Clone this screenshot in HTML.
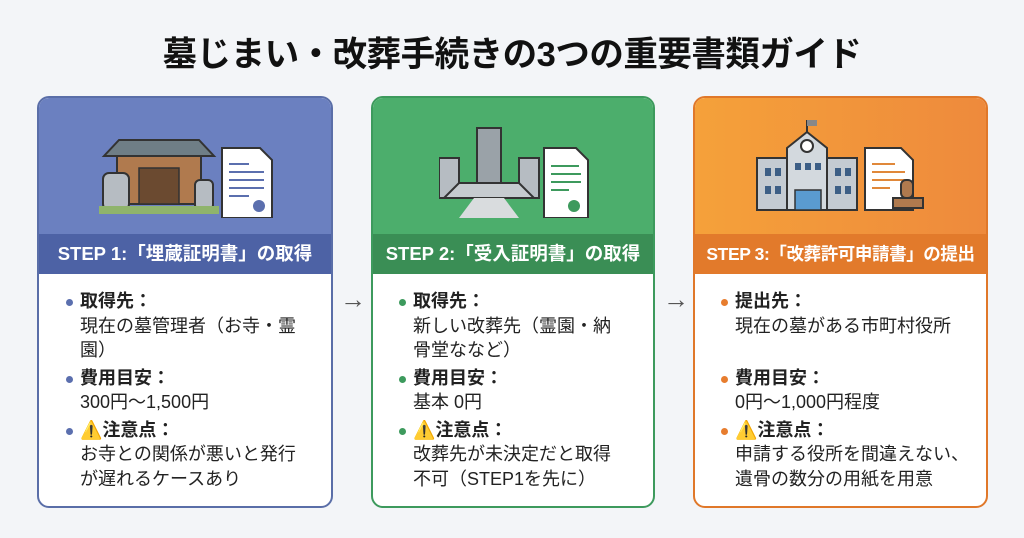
<!DOCTYPE html>
<html><head><meta charset="utf-8"><style>
*{margin:0;padding:0;box-sizing:border-box}
body{width:1024px;height:538px;background:#f3f5f8;position:relative;overflow:hidden;font-family:"Liberation Sans","Noto Sans CJK JP",sans-serif;color:#222}
.title{position:absolute;left:0;width:1024px;top:26px;text-align:center;font-size:34.5px;font-weight:bold;color:#111;letter-spacing:-0.5px}
.card{position:absolute;top:96px;height:412px;border-radius:12px;border:2px solid;overflow:hidden;background:#fff}
.top{position:absolute;left:0;right:0;top:0;height:136px}
.hd{position:absolute;left:0;right:0;top:136px;height:40px;color:#fff;font-weight:bold;font-size:18.5px;text-align:center;line-height:40px;white-space:nowrap}
.body{position:absolute;left:28px;top:191px;font-size:18px;line-height:24.5px;white-space:nowrap}
.body b{display:block;position:relative}
.body b:before{content:"";position:absolute;left:-14px;top:10px;width:7px;height:7px;border-radius:50%}
.c1 b:before{background:#5b6fae}.c2 b:before{background:#3d9a5d}.c3 b:before{background:#e77d2e}
.gap{height:3px}
.arrow{position:absolute;top:284px;font-size:26px;color:#555}
svg{position:absolute}
</style></head><body>
<div class="title">墓じまい・改葬手続きの3つの重要書類ガイド</div>

<div class="card c1" style="left:37px;width:296px;border-color:#5a6ea8">
 <div class="top" style="background:#6b80c0"></div>
 <svg style="left:60px;top:20px" width="180" height="100" viewBox="0 0 180 100">
  <polygon points="20,22 100,22 115,38 5,38" fill="#6f7e86" stroke="#333" stroke-width="2"/>
  <rect x="18" y="38" width="84" height="48" fill="#b07a4e" stroke="#333" stroke-width="2"/>
  <rect x="40" y="50" width="40" height="36" fill="#6b4a30" stroke="#333" stroke-width="1.5"/>
  <rect x="4" y="55" width="26" height="37" rx="6" fill="#b6bcc2" stroke="#333" stroke-width="2"/>
  <rect x="96" y="62" width="18" height="30" rx="5" fill="#b6bcc2" stroke="#333" stroke-width="2"/>
  <rect x="0" y="88" width="120" height="8" fill="#8fb46c"/>
  <path d="M123 30 h38 l12 12 v58 h-50z" fill="#fff" stroke="#333" stroke-width="2"/>
  <g stroke="#5b6fae" stroke-width="2"><line x1="130" y1="46" x2="150" y2="46"/><line x1="130" y1="54" x2="165" y2="54"/><line x1="130" y1="62" x2="165" y2="62"/><line x1="130" y1="70" x2="165" y2="70"/><line x1="130" y1="78" x2="150" y2="78"/></g>
  <circle cx="160" cy="88" r="6" fill="#5b6fae"/>
 </svg>
 <div class="hd" style="background:#4d62a5">STEP 1:「埋蔵証明書」の取得</div>
 <div class="body c1" style="left:41px">
  <b>取得先：</b>現在の墓管理者（お寺・霊<br>園）<div class="gap"></div>
  <b>費用目安：</b>300円〜1,500円<div class="gap"></div>
  <b>⚠️注意点：</b>お寺との関係が悪いと発行<br>が遅れるケースあり
 </div>
</div>

<div class="arrow" style="left:340px">→</div>

<div class="card c2" style="left:371px;width:284px;border-color:#3d9a5d">
 <div class="top" style="background:#4cae6c"></div>
 <svg style="left:66px;top:20px" width="160" height="100" viewBox="0 0 160 100">
  <rect x="0" y="40" width="20" height="40" fill="#b6bcc2" stroke="#333" stroke-width="2"/>
  <rect x="80" y="40" width="20" height="40" fill="#b6bcc2" stroke="#333" stroke-width="2"/>
  <rect x="38" y="10" width="24" height="55" fill="#9aa2a8" stroke="#333" stroke-width="2"/>
  <polygon points="20,65 80,65 95,80 5,80" fill="#c6cbcf" stroke="#333" stroke-width="2"/>
  <polygon points="35,80 65,80 80,100 20,100" fill="#d9dcde"/>
  <path d="M105 30 h32 l12 12 v58 h-44z" fill="#fff" stroke="#333" stroke-width="2"/>
  <g stroke="#3d9a5d" stroke-width="2"><line x1="112" y1="48" x2="140" y2="48"/><line x1="112" y1="56" x2="142" y2="56"/><line x1="112" y1="64" x2="142" y2="64"/><line x1="112" y1="72" x2="130" y2="72"/></g>
  <circle cx="135" cy="88" r="6" fill="#3d9a5d"/>
 </svg>
 <div class="hd" style="background:#3a8e55">STEP 2:「受入証明書」の取得</div>
 <div class="body c2" style="left:40px">
  <b>取得先：</b>新しい改葬先（霊園・納<br>骨堂ななど）<div class="gap"></div>
  <b>費用目安：</b>基本 0円<div class="gap"></div>
  <b>⚠️注意点：</b>改葬先が未決定だと取得<br>不可（STEP1を先に）
 </div>
</div>

<div class="arrow" style="left:663px">→</div>

<div class="card c3" style="left:693px;width:295px;border-color:#e0782a">
 <div class="top" style="background:linear-gradient(90deg,#f5a13a,#ee8a3c)"></div>
 <svg style="left:60px;top:20px" width="180" height="100" viewBox="0 0 180 100">
  <rect x="2" y="40" width="100" height="52" fill="#c4cbd2" stroke="#333" stroke-width="2"/>
  <polygon points="32,30 52,14 72,30 72,92 32,92" fill="#d3d9de" stroke="#333" stroke-width="2"/>
  <circle cx="52" cy="28" r="6" fill="#fff" stroke="#333" stroke-width="2"/>
  <line x1="52" y1="14" x2="52" y2="2" stroke="#333" stroke-width="2"/><rect x="52" y="2" width="10" height="6" fill="#888"/>
  <g fill="#3d5f86"><rect x="10" y="50" width="6" height="8"/><rect x="20" y="50" width="6" height="8"/><rect x="10" y="68" width="6" height="8"/><rect x="20" y="68" width="6" height="8"/><rect x="80" y="50" width="6" height="8"/><rect x="90" y="50" width="6" height="8"/><rect x="80" y="68" width="6" height="8"/><rect x="90" y="68" width="6" height="8"/><rect x="40" y="45" width="6" height="7"/><rect x="50" y="45" width="6" height="7"/><rect x="60" y="45" width="6" height="7"/></g>
  <rect x="40" y="72" width="26" height="20" fill="#5a9bd0" stroke="#333" stroke-width="1.5"/>
  <path d="M110 30 h36 l12 12 v50 h-48z" fill="#fff" stroke="#333" stroke-width="2"/>
  <g stroke="#e0883a" stroke-width="2"><line x1="117" y1="46" x2="140" y2="46"/><line x1="117" y1="54" x2="150" y2="54"/><line x1="117" y1="62" x2="150" y2="62"/><line x1="117" y1="70" x2="135" y2="70"/></g>
  <rect x="146" y="62" width="12" height="18" rx="5" fill="#b07a4e" stroke="#333" stroke-width="2"/>
  <rect x="138" y="80" width="30" height="10" fill="#b07a4e" stroke="#333" stroke-width="2"/>
 </svg>
 <div class="hd" style="background:#e27a2b;font-size:17.5px;letter-spacing:-0.4px">STEP 3:「改葬許可申請書」の提出</div>
 <div class="body c3" style="left:40px">
  <b>提出先：</b>現在の墓がある市町村役所<div style="height:27.5px"></div>
  <b>費用目安：</b>0円〜1,000円程度<div class="gap"></div>
  <b>⚠️注意点：</b>申請する役所を間違えない、<br>遺骨の数分の用紙を用意
 </div>
</div>
</body></html>
